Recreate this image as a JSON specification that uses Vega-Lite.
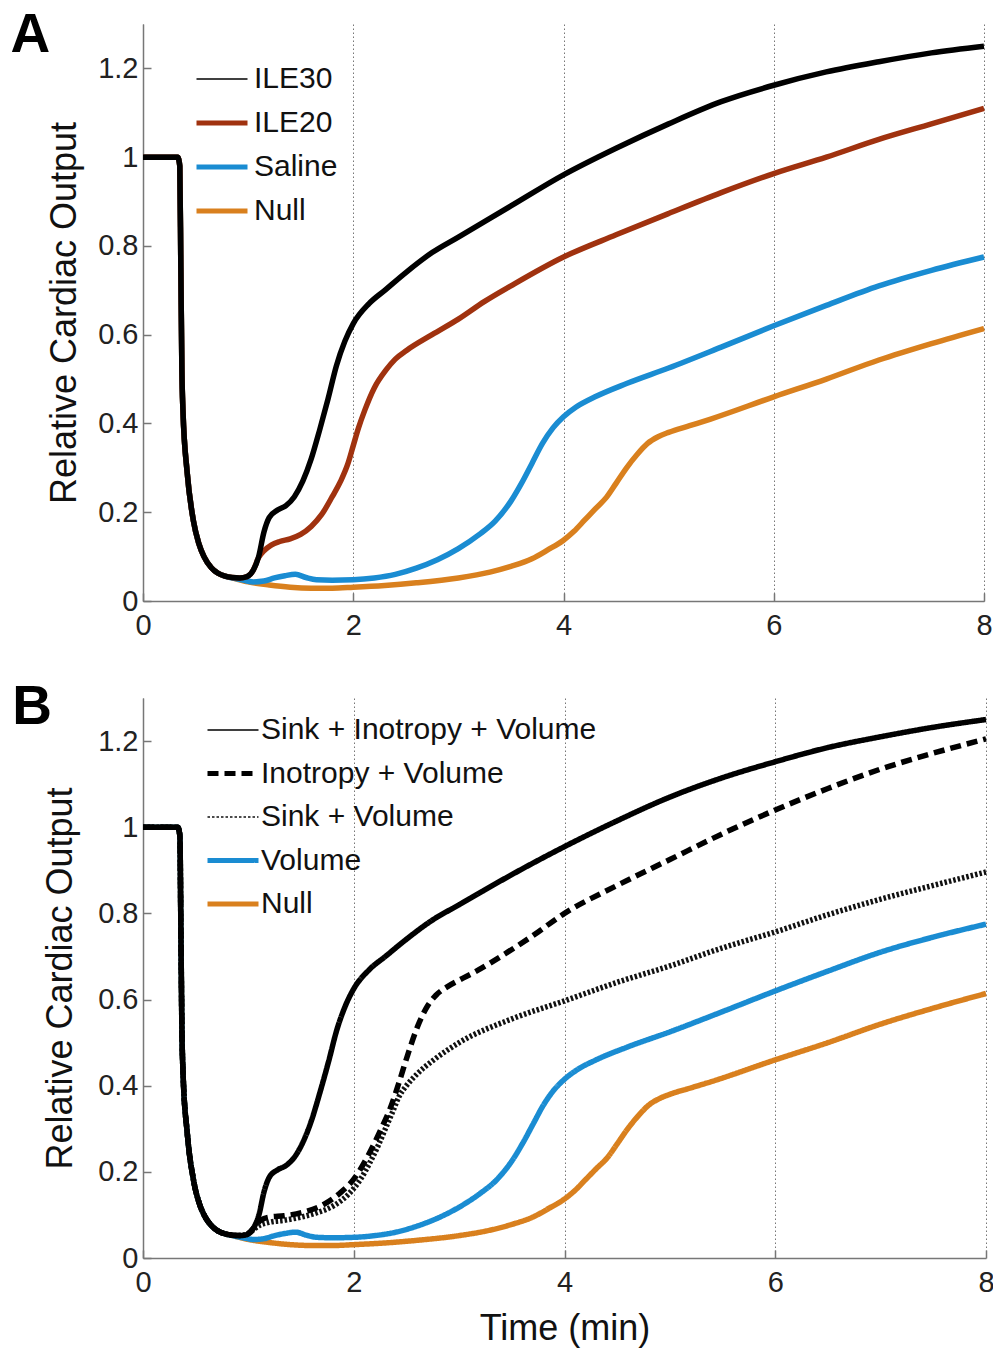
{
  "$schema": "https://vega.github.io/schema/vega-lite/v6.json",
  "padding": {"left": 10, "top": 8, "right": 2, "bottom": 2},
  "spacing": 39,
  "config": {
    "font": "Liberation Sans",
    "view": {"stroke": null},
    "axis": {"domainColor": "#777", "domainWidth": 1.5, "tickColor": "#777", "tickWidth": 1.5, "tickSize": -8, "labelFontSize": 29, "labelColor": "#222", "labelFont": "Liberation Sans", "titleFont": "Liberation Sans", "titleFontWeight": "normal", "titleFontSize": 36, "titleColor": "#111", "grid": false, "labelFlush": false, "format": "~g"},
    "axisX": {"grid": true, "gridDash": [1.5, 2.5], "gridColor": "#777", "gridWidth": 1, "labelPadding": 18},
    "axisY": {"labelPadding": 13, "titlePadding": 0},
    "legend": {"orient": "none", "title": null, "symbolType": "stroke", "symbolSize": 2601, "labelFontSize": 30, "labelFont": "Liberation Sans", "labelColor": "#111", "labelLimit": 600, "rowPadding": 14, "labelOffset": 13, "symbolStrokeWidth": 5, "padding": 0}
  },
  "resolve": {"scale": {"color": "independent", "strokeDash": "independent", "x": "independent", "y": "independent"}, "legend": {"color": "independent", "strokeDash": "independent"}},
  "datasets": {
    "A": [
      {"s":"Null","t":0,"v":1},{"s":"Null","t":0.33,"v":1},{"s":"Null","t":0.35,"v":0.98},{"s":"Null","t":0.36,"v":0.75},{"s":"Null","t":0.37,"v":0.52},{"s":"Null","t":0.38,"v":0.43},{"s":"Null","t":0.42,"v":0.29},{"s":"Null","t":0.48,"v":0.18},{"s":"Null","t":0.53,"v":0.13},{"s":"Null","t":0.58,"v":0.1},{"s":"Null","t":0.65,"v":0.075},{"s":"Null","t":0.71,"v":0.063},{"s":"Null","t":0.78,"v":0.056},{"s":"Null","t":0.85,"v":0.052},
      {"s":"Null","t":1,"v":0.043},{"s":"Null","t":1.2,"v":0.036},{"s":"Null","t":1.4,"v":0.031},{"s":"Null","t":1.6,"v":0.029},{"s":"Null","t":1.8,"v":0.029},{"s":"Null","t":2,"v":0.031},{"s":"Null","t":2.3,"v":0.035},{"s":"Null","t":2.6,"v":0.041},{"s":"Null","t":3,"v":0.052},{"s":"Null","t":3.3,"v":0.065},{"s":"Null","t":3.5,"v":0.078},{"s":"Null","t":3.7,"v":0.095},{"s":"Null","t":3.85,"v":0.115},{"s":"Null","t":4,"v":0.137},{"s":"Null","t":4.1,"v":0.157},{"s":"Null","t":4.2,"v":0.182},{"s":"Null","t":4.3,"v":0.207},{"s":"Null","t":4.41,"v":0.234},{"s":"Null","t":4.5,"v":0.265},{"s":"Null","t":4.6,"v":0.3},{"s":"Null","t":4.7,"v":0.33},{"s":"Null","t":4.8,"v":0.355},{"s":"Null","t":4.9,"v":0.37},{"s":"Null","t":5,"v":0.38},{"s":"Null","t":5.2,"v":0.395},{"s":"Null","t":5.4,"v":0.41},{"s":"Null","t":6,"v":0.46},{"s":"Null","t":6.5,"v":0.5},{"s":"Null","t":7,"v":0.543},{"s":"Null","t":7.5,"v":0.58},{"s":"Null","t":8,"v":0.614},
      {"s":"Saline","t":0,"v":1},{"s":"Saline","t":0.33,"v":1},{"s":"Saline","t":0.35,"v":0.98},{"s":"Saline","t":0.36,"v":0.75},{"s":"Saline","t":0.37,"v":0.52},{"s":"Saline","t":0.38,"v":0.43},{"s":"Saline","t":0.42,"v":0.29},{"s":"Saline","t":0.48,"v":0.18},{"s":"Saline","t":0.53,"v":0.13},{"s":"Saline","t":0.58,"v":0.1},{"s":"Saline","t":0.65,"v":0.075},{"s":"Saline","t":0.71,"v":0.063},{"s":"Saline","t":0.78,"v":0.056},{"s":"Saline","t":0.85,"v":0.052},
      {"s":"Saline","t":0.95,"v":0.047},{"s":"Saline","t":1.05,"v":0.043},{"s":"Saline","t":1.15,"v":0.045},{"s":"Saline","t":1.25,"v":0.052},{"s":"Saline","t":1.35,"v":0.057},{"s":"Saline","t":1.45,"v":0.06},{"s":"Saline","t":1.55,"v":0.053},{"s":"Saline","t":1.65,"v":0.048},{"s":"Saline","t":1.8,"v":0.047},{"s":"Saline","t":2,"v":0.048},{"s":"Saline","t":2.2,"v":0.052},{"s":"Saline","t":2.4,"v":0.06},{"s":"Saline","t":2.6,"v":0.074},{"s":"Saline","t":2.8,"v":0.093},{"s":"Saline","t":3,"v":0.118},{"s":"Saline","t":3.2,"v":0.15},{"s":"Saline","t":3.35,"v":0.18},{"s":"Saline","t":3.5,"v":0.225},{"s":"Saline","t":3.6,"v":0.265},{"s":"Saline","t":3.7,"v":0.31},{"s":"Saline","t":3.8,"v":0.355},{"s":"Saline","t":3.9,"v":0.39},{"s":"Saline","t":4,"v":0.415},{"s":"Saline","t":4.12,"v":0.437},{"s":"Saline","t":4.3,"v":0.46},{"s":"Saline","t":4.6,"v":0.49},{"s":"Saline","t":5,"v":0.525},{"s":"Saline","t":5.5,"v":0.572},{"s":"Saline","t":6,"v":0.62},{"s":"Saline","t":6.5,"v":0.666},{"s":"Saline","t":7,"v":0.71},{"s":"Saline","t":7.5,"v":0.745},{"s":"Saline","t":8,"v":0.775},
      {"s":"ILE20","t":0,"v":1},{"s":"ILE20","t":0.33,"v":1},{"s":"ILE20","t":0.35,"v":0.98},{"s":"ILE20","t":0.36,"v":0.75},{"s":"ILE20","t":0.37,"v":0.52},{"s":"ILE20","t":0.38,"v":0.43},{"s":"ILE20","t":0.42,"v":0.29},{"s":"ILE20","t":0.48,"v":0.18},{"s":"ILE20","t":0.53,"v":0.13},{"s":"ILE20","t":0.58,"v":0.1},{"s":"ILE20","t":0.65,"v":0.075},{"s":"ILE20","t":0.71,"v":0.063},{"s":"ILE20","t":0.78,"v":0.056},{"s":"ILE20","t":0.85,"v":0.053},{"s":"ILE20","t":0.92,"v":0.052},{"s":"ILE20","t":0.99,"v":0.055},{"s":"ILE20","t":1.05,"v":0.07},
      {"s":"ILE20","t":1.1,"v":0.098},{"s":"ILE20","t":1.15,"v":0.113},{"s":"ILE20","t":1.22,"v":0.126},{"s":"ILE20","t":1.3,"v":0.134},{"s":"ILE20","t":1.4,"v":0.14},{"s":"ILE20","t":1.5,"v":0.15},{"s":"ILE20","t":1.6,"v":0.168},{"s":"ILE20","t":1.7,"v":0.195},{"s":"ILE20","t":1.8,"v":0.235},{"s":"ILE20","t":1.88,"v":0.27},{"s":"ILE20","t":1.95,"v":0.31},{"s":"ILE20","t":2,"v":0.35},{"s":"ILE20","t":2.05,"v":0.39},{"s":"ILE20","t":2.11,"v":0.43},{"s":"ILE20","t":2.2,"v":0.48},{"s":"ILE20","t":2.31,"v":0.52},{"s":"ILE20","t":2.4,"v":0.545},{"s":"ILE20","t":2.51,"v":0.565},{"s":"ILE20","t":2.75,"v":0.6},{"s":"ILE20","t":3,"v":0.635},{"s":"ILE20","t":3.25,"v":0.675},{"s":"ILE20","t":3.5,"v":0.71},{"s":"ILE20","t":4,"v":0.775},{"s":"ILE20","t":4.5,"v":0.825},{"s":"ILE20","t":5,"v":0.873},{"s":"ILE20","t":5.5,"v":0.92},{"s":"ILE20","t":6,"v":0.963},{"s":"ILE20","t":6.5,"v":1.0},{"s":"ILE20","t":7,"v":1.04},{"s":"ILE20","t":7.5,"v":1.075},{"s":"ILE20","t":8,"v":1.11},
      {"s":"ILE30","t":0,"v":1},{"s":"ILE30","t":0.33,"v":1},{"s":"ILE30","t":0.35,"v":0.98},{"s":"ILE30","t":0.36,"v":0.75},{"s":"ILE30","t":0.37,"v":0.52},{"s":"ILE30","t":0.38,"v":0.43},{"s":"ILE30","t":0.42,"v":0.29},{"s":"ILE30","t":0.48,"v":0.18},{"s":"ILE30","t":0.53,"v":0.13},{"s":"ILE30","t":0.58,"v":0.1},{"s":"ILE30","t":0.65,"v":0.075},{"s":"ILE30","t":0.71,"v":0.063},{"s":"ILE30","t":0.78,"v":0.056},{"s":"ILE30","t":0.85,"v":0.053},
      {"s":"ILE30","t":0.92,"v":0.052},{"s":"ILE30","t":0.99,"v":0.055},{"s":"ILE30","t":1.05,"v":0.07},{"s":"ILE30","t":1.1,"v":0.1},{"s":"ILE30","t":1.15,"v":0.155},{"s":"ILE30","t":1.2,"v":0.188},{"s":"ILE30","t":1.28,"v":0.205},{"s":"ILE30","t":1.36,"v":0.215},{"s":"ILE30","t":1.44,"v":0.235},{"s":"ILE30","t":1.52,"v":0.27},{"s":"ILE30","t":1.6,"v":0.32},{"s":"ILE30","t":1.68,"v":0.385},{"s":"ILE30","t":1.76,"v":0.455},{"s":"ILE30","t":1.84,"v":0.53},{"s":"ILE30","t":1.92,"v":0.585},{"s":"ILE30","t":2,"v":0.625},{"s":"ILE30","t":2.15,"v":0.67},{"s":"ILE30","t":2.3,"v":0.7},{"s":"ILE30","t":2.5,"v":0.74},{"s":"ILE30","t":2.75,"v":0.785},{"s":"ILE30","t":3,"v":0.82},{"s":"ILE30","t":3.5,"v":0.89},{"s":"ILE30","t":4,"v":0.96},{"s":"ILE30","t":4.5,"v":1.02},{"s":"ILE30","t":5,"v":1.075},{"s":"ILE30","t":5.5,"v":1.125},{"s":"ILE30","t":6,"v":1.162},{"s":"ILE30","t":6.5,"v":1.192},{"s":"ILE30","t":7,"v":1.215},{"s":"ILE30","t":7.5,"v":1.235},{"s":"ILE30","t":8,"v":1.25}
    ],
    "B": [
      {"s":"Null","t":0,"v":1},{"s":"Null","t":0.33,"v":1},{"s":"Null","t":0.35,"v":0.98},{"s":"Null","t":0.36,"v":0.75},{"s":"Null","t":0.37,"v":0.52},{"s":"Null","t":0.38,"v":0.43},{"s":"Null","t":0.42,"v":0.29},{"s":"Null","t":0.48,"v":0.18},{"s":"Null","t":0.53,"v":0.13},{"s":"Null","t":0.58,"v":0.1},{"s":"Null","t":0.65,"v":0.075},{"s":"Null","t":0.71,"v":0.063},{"s":"Null","t":0.78,"v":0.056},{"s":"Null","t":0.85,"v":0.052},
      {"s":"Null","t":1,"v":0.043},{"s":"Null","t":1.2,"v":0.036},{"s":"Null","t":1.4,"v":0.031},{"s":"Null","t":1.6,"v":0.029},{"s":"Null","t":1.8,"v":0.029},{"s":"Null","t":2,"v":0.031},{"s":"Null","t":2.3,"v":0.035},{"s":"Null","t":2.6,"v":0.041},{"s":"Null","t":3,"v":0.052},{"s":"Null","t":3.3,"v":0.065},{"s":"Null","t":3.5,"v":0.078},{"s":"Null","t":3.7,"v":0.095},{"s":"Null","t":3.85,"v":0.115},{"s":"Null","t":4,"v":0.137},{"s":"Null","t":4.1,"v":0.157},{"s":"Null","t":4.2,"v":0.182},{"s":"Null","t":4.3,"v":0.207},{"s":"Null","t":4.41,"v":0.234},{"s":"Null","t":4.5,"v":0.265},{"s":"Null","t":4.6,"v":0.3},{"s":"Null","t":4.7,"v":0.33},{"s":"Null","t":4.8,"v":0.355},{"s":"Null","t":4.9,"v":0.37},{"s":"Null","t":5,"v":0.38},{"s":"Null","t":5.2,"v":0.395},{"s":"Null","t":5.4,"v":0.41},{"s":"Null","t":6,"v":0.46},{"s":"Null","t":6.5,"v":0.5},{"s":"Null","t":7,"v":0.543},{"s":"Null","t":7.5,"v":0.58},{"s":"Null","t":8,"v":0.614},
      {"s":"Volume","t":0,"v":1},{"s":"Volume","t":0.33,"v":1},{"s":"Volume","t":0.35,"v":0.98},{"s":"Volume","t":0.36,"v":0.75},{"s":"Volume","t":0.37,"v":0.52},{"s":"Volume","t":0.38,"v":0.43},{"s":"Volume","t":0.42,"v":0.29},{"s":"Volume","t":0.48,"v":0.18},{"s":"Volume","t":0.53,"v":0.13},{"s":"Volume","t":0.58,"v":0.1},{"s":"Volume","t":0.65,"v":0.075},{"s":"Volume","t":0.71,"v":0.063},{"s":"Volume","t":0.78,"v":0.056},{"s":"Volume","t":0.85,"v":0.052},
      {"s":"Volume","t":0.95,"v":0.047},{"s":"Volume","t":1.05,"v":0.043},{"s":"Volume","t":1.15,"v":0.045},{"s":"Volume","t":1.25,"v":0.052},{"s":"Volume","t":1.35,"v":0.057},{"s":"Volume","t":1.45,"v":0.06},{"s":"Volume","t":1.55,"v":0.053},{"s":"Volume","t":1.65,"v":0.048},{"s":"Volume","t":1.8,"v":0.047},{"s":"Volume","t":2,"v":0.048},{"s":"Volume","t":2.2,"v":0.052},{"s":"Volume","t":2.4,"v":0.06},{"s":"Volume","t":2.6,"v":0.074},{"s":"Volume","t":2.8,"v":0.093},{"s":"Volume","t":3,"v":0.118},{"s":"Volume","t":3.2,"v":0.15},{"s":"Volume","t":3.35,"v":0.18},{"s":"Volume","t":3.5,"v":0.225},{"s":"Volume","t":3.6,"v":0.265},{"s":"Volume","t":3.7,"v":0.31},{"s":"Volume","t":3.8,"v":0.355},{"s":"Volume","t":3.9,"v":0.39},{"s":"Volume","t":4,"v":0.415},{"s":"Volume","t":4.12,"v":0.437},{"s":"Volume","t":4.3,"v":0.46},{"s":"Volume","t":4.6,"v":0.49},{"s":"Volume","t":5,"v":0.525},{"s":"Volume","t":5.5,"v":0.572},{"s":"Volume","t":6,"v":0.62},{"s":"Volume","t":6.5,"v":0.666},{"s":"Volume","t":7,"v":0.71},{"s":"Volume","t":7.5,"v":0.745},{"s":"Volume","t":8,"v":0.775},
      {"s":"Sink + Volume","t":0,"v":1},{"s":"Sink + Volume","t":0.33,"v":1},{"s":"Sink + Volume","t":0.35,"v":0.98},{"s":"Sink + Volume","t":0.36,"v":0.75},{"s":"Sink + Volume","t":0.37,"v":0.52},{"s":"Sink + Volume","t":0.38,"v":0.43},{"s":"Sink + Volume","t":0.42,"v":0.29},{"s":"Sink + Volume","t":0.48,"v":0.18},{"s":"Sink + Volume","t":0.53,"v":0.13},{"s":"Sink + Volume","t":0.58,"v":0.1},{"s":"Sink + Volume","t":0.65,"v":0.075},{"s":"Sink + Volume","t":0.71,"v":0.063},{"s":"Sink + Volume","t":0.78,"v":0.056},{"s":"Sink + Volume","t":0.85,"v":0.053},
      {"s":"Sink + Volume","t":0.92,"v":0.052},{"s":"Sink + Volume","t":0.99,"v":0.056},{"s":"Sink + Volume","t":1.1,"v":0.075},{"s":"Sink + Volume","t":1.2,"v":0.083},{"s":"Sink + Volume","t":1.35,"v":0.088},{"s":"Sink + Volume","t":1.5,"v":0.095},{"s":"Sink + Volume","t":1.65,"v":0.105},{"s":"Sink + Volume","t":1.82,"v":0.123},{"s":"Sink + Volume","t":1.95,"v":0.148},{"s":"Sink + Volume","t":2.07,"v":0.185},{"s":"Sink + Volume","t":2.15,"v":0.22},{"s":"Sink + Volume","t":2.23,"v":0.26},{"s":"Sink + Volume","t":2.3,"v":0.3},{"s":"Sink + Volume","t":2.37,"v":0.34},{"s":"Sink + Volume","t":2.43,"v":0.375},{"s":"Sink + Volume","t":2.5,"v":0.4},{"s":"Sink + Volume","t":2.6,"v":0.427},{"s":"Sink + Volume","t":2.76,"v":0.46},{"s":"Sink + Volume","t":3,"v":0.5},{"s":"Sink + Volume","t":3.5,"v":0.555},{"s":"Sink + Volume","t":4,"v":0.597},{"s":"Sink + Volume","t":4.5,"v":0.64},{"s":"Sink + Volume","t":5,"v":0.678},{"s":"Sink + Volume","t":5.5,"v":0.72},{"s":"Sink + Volume","t":6,"v":0.757},{"s":"Sink + Volume","t":6.5,"v":0.797},{"s":"Sink + Volume","t":7,"v":0.833},{"s":"Sink + Volume","t":7.5,"v":0.865},{"s":"Sink + Volume","t":8,"v":0.896},
      {"s":"Inotropy + Volume","t":0,"v":1},{"s":"Inotropy + Volume","t":0.33,"v":1},{"s":"Inotropy + Volume","t":0.35,"v":0.98},{"s":"Inotropy + Volume","t":0.36,"v":0.75},{"s":"Inotropy + Volume","t":0.37,"v":0.52},{"s":"Inotropy + Volume","t":0.38,"v":0.43},{"s":"Inotropy + Volume","t":0.42,"v":0.29},{"s":"Inotropy + Volume","t":0.48,"v":0.18},{"s":"Inotropy + Volume","t":0.53,"v":0.13},{"s":"Inotropy + Volume","t":0.58,"v":0.1},{"s":"Inotropy + Volume","t":0.65,"v":0.075},{"s":"Inotropy + Volume","t":0.71,"v":0.063},{"s":"Inotropy + Volume","t":0.78,"v":0.056},{"s":"Inotropy + Volume","t":0.85,"v":0.053},{"s":"Inotropy + Volume","t":0.92,"v":0.052},{"s":"Inotropy + Volume","t":0.99,"v":0.055},{"s":"Inotropy + Volume","t":1.05,"v":0.07},
      {"s":"Inotropy + Volume","t":1.12,"v":0.088},{"s":"Inotropy + Volume","t":1.2,"v":0.095},{"s":"Inotropy + Volume","t":1.34,"v":0.098},{"s":"Inotropy + Volume","t":1.53,"v":0.107},{"s":"Inotropy + Volume","t":1.72,"v":0.125},{"s":"Inotropy + Volume","t":1.88,"v":0.153},{"s":"Inotropy + Volume","t":2,"v":0.183},{"s":"Inotropy + Volume","t":2.13,"v":0.235},{"s":"Inotropy + Volume","t":2.26,"v":0.3},{"s":"Inotropy + Volume","t":2.35,"v":0.35},{"s":"Inotropy + Volume","t":2.42,"v":0.4},{"s":"Inotropy + Volume","t":2.51,"v":0.47},{"s":"Inotropy + Volume","t":2.61,"v":0.54},{"s":"Inotropy + Volume","t":2.7,"v":0.585},{"s":"Inotropy + Volume","t":2.78,"v":0.61},{"s":"Inotropy + Volume","t":2.89,"v":0.63},{"s":"Inotropy + Volume","t":3,"v":0.645},{"s":"Inotropy + Volume","t":3.15,"v":0.664},{"s":"Inotropy + Volume","t":3.46,"v":0.71},{"s":"Inotropy + Volume","t":3.68,"v":0.745},{"s":"Inotropy + Volume","t":4,"v":0.8},{"s":"Inotropy + Volume","t":4.5,"v":0.865},{"s":"Inotropy + Volume","t":5,"v":0.925},{"s":"Inotropy + Volume","t":5.5,"v":0.985},{"s":"Inotropy + Volume","t":6,"v":1.04},{"s":"Inotropy + Volume","t":6.5,"v":1.09},{"s":"Inotropy + Volume","t":7,"v":1.135},{"s":"Inotropy + Volume","t":7.5,"v":1.172},{"s":"Inotropy + Volume","t":8,"v":1.205},
      {"s":"Sink + Inotropy + Volume","t":0,"v":1},{"s":"Sink + Inotropy + Volume","t":0.33,"v":1},{"s":"Sink + Inotropy + Volume","t":0.35,"v":0.98},{"s":"Sink + Inotropy + Volume","t":0.36,"v":0.75},{"s":"Sink + Inotropy + Volume","t":0.37,"v":0.52},{"s":"Sink + Inotropy + Volume","t":0.38,"v":0.43},{"s":"Sink + Inotropy + Volume","t":0.42,"v":0.29},{"s":"Sink + Inotropy + Volume","t":0.48,"v":0.18},{"s":"Sink + Inotropy + Volume","t":0.53,"v":0.13},{"s":"Sink + Inotropy + Volume","t":0.58,"v":0.1},{"s":"Sink + Inotropy + Volume","t":0.65,"v":0.075},{"s":"Sink + Inotropy + Volume","t":0.71,"v":0.063},{"s":"Sink + Inotropy + Volume","t":0.78,"v":0.056},{"s":"Sink + Inotropy + Volume","t":0.85,"v":0.053},
      {"s":"Sink + Inotropy + Volume","t":0.92,"v":0.052},{"s":"Sink + Inotropy + Volume","t":0.99,"v":0.055},{"s":"Sink + Inotropy + Volume","t":1.05,"v":0.07},{"s":"Sink + Inotropy + Volume","t":1.1,"v":0.1},{"s":"Sink + Inotropy + Volume","t":1.15,"v":0.155},{"s":"Sink + Inotropy + Volume","t":1.2,"v":0.188},{"s":"Sink + Inotropy + Volume","t":1.28,"v":0.205},{"s":"Sink + Inotropy + Volume","t":1.36,"v":0.215},{"s":"Sink + Inotropy + Volume","t":1.44,"v":0.235},{"s":"Sink + Inotropy + Volume","t":1.52,"v":0.27},{"s":"Sink + Inotropy + Volume","t":1.6,"v":0.32},{"s":"Sink + Inotropy + Volume","t":1.68,"v":0.385},{"s":"Sink + Inotropy + Volume","t":1.76,"v":0.455},{"s":"Sink + Inotropy + Volume","t":1.84,"v":0.53},{"s":"Sink + Inotropy + Volume","t":1.92,"v":0.585},{"s":"Sink + Inotropy + Volume","t":2,"v":0.625},{"s":"Sink + Inotropy + Volume","t":2.15,"v":0.67},{"s":"Sink + Inotropy + Volume","t":2.3,"v":0.7},{"s":"Sink + Inotropy + Volume","t":2.5,"v":0.74},{"s":"Sink + Inotropy + Volume","t":2.75,"v":0.785},{"s":"Sink + Inotropy + Volume","t":3,"v":0.82},{"s":"Sink + Inotropy + Volume","t":3.5,"v":0.89},{"s":"Sink + Inotropy + Volume","t":4,"v":0.955},{"s":"Sink + Inotropy + Volume","t":4.5,"v":1.015},{"s":"Sink + Inotropy + Volume","t":5,"v":1.07},{"s":"Sink + Inotropy + Volume","t":5.5,"v":1.115},{"s":"Sink + Inotropy + Volume","t":6,"v":1.152},{"s":"Sink + Inotropy + Volume","t":6.5,"v":1.185},{"s":"Sink + Inotropy + Volume","t":7,"v":1.21},{"s":"Sink + Inotropy + Volume","t":7.5,"v":1.232},{"s":"Sink + Inotropy + Volume","t":8,"v":1.25}
    ]
  },
  "vconcat": [
    {
      "width": 841,
      "height": 577,
      "layer": [
        {
          "data": {"name": "A"},
          "mark": {"type": "line", "strokeWidth": 5.5, "interpolate": "monotone", "strokeJoin": "round"},
          "encoding": {
            "x": {"field": "t", "type": "quantitative", "scale": {"domain": [0, 8], "nice": false}, "axis": {"values": [0, 2, 4, 6, 8], "title": null}},
            "y": {"field": "v", "type": "quantitative", "scale": {"domain": [0, 1.3], "nice": false}, "axis": {"values": [0, 0.2, 0.4, 0.6, 0.8, 1, 1.2], "title": "Relative Cardiac Output", "titleX": -60}},
            "color": {"field": "s", "type": "nominal", "scale": {"domain": ["ILE30", "ILE20", "Saline", "Null"], "range": ["#000000", "#A0320F", "#1A8CD2", "#D9801E"]},
              "legend": {"legendX": 64, "legendY": 40, "labelOffset": 17, "encode": {"symbols": {"update": {"strokeWidth": {"signal": "datum.value === 'ILE30' ? 1.5 : 5"}}}}}}
          }
        },
        {
          "data": {"values": [{"label": "A"}]},
          "mark": {"type": "text", "align": "left", "baseline": "alphabetic", "fontSize": 55, "fontWeight": "bold", "font": "Liberation Sans", "color": "#000"},
          "encoding": {"x": {"datum": -1.26}, "y": {"datum": 1.236}, "text": {"field": "label"}}
        }
      ]
    },
    {
      "width": 843,
      "height": 560,
      "layer": [
        {
          "data": {"name": "B"},
          "mark": {"type": "line", "strokeWidth": 5.5, "interpolate": "monotone", "strokeJoin": "round"},
          "encoding": {
            "x": {"field": "t", "type": "quantitative", "scale": {"domain": [0, 8], "nice": false}, "axis": {"values": [0, 2, 4, 6, 8], "title": "Time (min)", "titleFontSize": 36, "titlePadding": 14}},
            "y": {"field": "v", "type": "quantitative", "scale": {"domain": [0, 1.3], "nice": false}, "axis": {"values": [0, 0.2, 0.4, 0.6, 0.8, 1, 1.2], "title": "Relative Cardiac Output", "titleX": -64}},
            "color": {"field": "s", "type": "nominal", "scale": {"domain": ["Sink + Inotropy + Volume", "Inotropy + Volume", "Sink + Volume", "Volume", "Null"], "range": ["#000000", "#000000", "#111111", "#1A8CD2", "#D9801E"]},
              "legend": {"legendX": 75, "legendY": 17, "rowPadding": 13.5, "encode": {"symbols": {"update": {"strokeWidth": {"signal": "datum.value === 'Sink + Inotropy + Volume' || datum.value === 'Sink + Volume' ? 1.5 : 5"}}}}}},
            "strokeDash": {"field": "s", "type": "nominal", "scale": {"domain": ["Sink + Inotropy + Volume", "Inotropy + Volume", "Sink + Volume", "Volume", "Null"], "range": [[1, 0], [11, 6], [2.5, 2], [1, 0], [1, 0]]},
              "legend": {"legendX": 75, "legendY": 17, "rowPadding": 13.5, "encode": {"symbols": {"update": {"strokeWidth": {"signal": "datum.value === 'Sink + Inotropy + Volume' || datum.value === 'Sink + Volume' ? 1.5 : 5"}}}}}}
          }
        },
        {
          "data": {"values": [{"label": "B"}]},
          "mark": {"type": "text", "align": "left", "baseline": "alphabetic", "fontSize": 55, "fontWeight": "bold", "font": "Liberation Sans", "color": "#000"},
          "encoding": {"x": {"datum": -1.24}, "y": {"datum": 1.24}, "text": {"field": "label"}}
        }
      ]
    }
  ]
}
